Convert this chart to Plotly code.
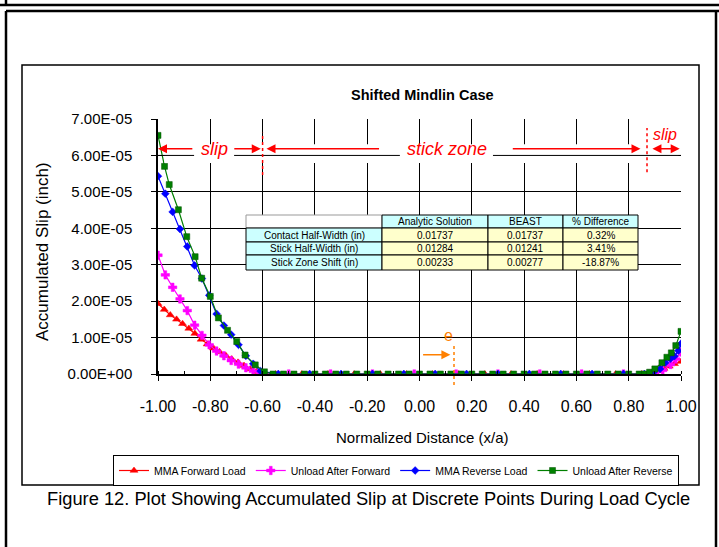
import plotly.graph_objects as go

# ---------------- data (slip values in units of 1e-5 inch) ----------------
red_x = [-1.000, -0.976, -0.953, -0.929, -0.906, -0.882, -0.859, -0.835, -0.812, -0.788,
         -0.765, -0.741, -0.718, -0.694, -0.671, -0.647, -0.624, -0.600,
         -0.55, -0.45, -0.35, -0.25, -0.15, -0.05, 0.05, 0.15, 0.25, 0.35, 0.45, 0.55, 0.65, 0.75, 0.85,
         0.89, 0.915, 0.935, 0.955, 0.975, 1.00]
red_y = [1.93, 1.77, 1.62, 1.50, 1.38, 1.25, 1.11, 0.95, 0.82, 0.71,
         0.61, 0.51, 0.41, 0.32, 0.23, 0.14, 0.06, 0.01,
         0, 0, 0, 0, 0, 0, 0, 0, 0, 0, 0, 0, 0, 0, 0,
         0.04, 0.09, 0.15, 0.21, 0.28, 0.34]

mag_x = [-1.000, -0.972, -0.944, -0.916, -0.888, -0.860, -0.832, -0.804, -0.776, -0.748,
         -0.720, -0.692, -0.664, -0.636, -0.608,
         -0.50, -0.34, -0.18, -0.02, 0.14, 0.30, 0.46, 0.62, 0.78, 0.88,
         0.90, 0.93, 0.96, 0.98, 1.00]
mag_y = [3.26, 2.72, 2.38, 2.06, 1.74, 1.34, 1.06, 0.80, 0.63, 0.50,
         0.37, 0.27, 0.17, 0.08, 0.02,
         0, 0, 0, 0, 0, 0, 0, 0, 0, 0,
         0.03, 0.10, 0.26, 0.41, 0.60]

blue_x = [-1.000, -0.972, -0.944, -0.916, -0.888, -0.860, -0.832, -0.804, -0.776, -0.748,
          -0.720, -0.692, -0.664, -0.636, -0.608,
          -0.54, -0.42, -0.30, -0.18, -0.06, 0.06, 0.18, 0.30, 0.42, 0.54, 0.66, 0.78, 0.86,
          0.895, 0.92, 0.94, 0.96, 0.975, 0.99, 1.00]
blue_y = [5.43, 4.95, 4.45, 3.98, 3.50, 2.98, 2.62, 2.16, 1.65, 1.33,
          1.08, 0.80, 0.50, 0.28, 0.08,
          0, 0, 0, 0, 0, 0, 0, 0, 0, 0, 0, 0, 0,
          0.05, 0.14, 0.31, 0.42, 0.49, 0.64, 0.83]

green_x = [-1.000, -0.975, -0.957, -0.922, -0.890, -0.858, -0.833, -0.800, -0.769, -0.734,
           -0.699, -0.667, -0.628, -0.593,
           -0.56, -0.52, -0.48, -0.44, -0.40, -0.36, -0.32, -0.28, -0.24, -0.20, -0.16, -0.12,
           -0.08, -0.04, 0.00, 0.04, 0.08, 0.12, 0.16, 0.20, 0.24, 0.28, 0.32, 0.36, 0.40, 0.44,
           0.48, 0.52, 0.56, 0.60, 0.64, 0.68, 0.72, 0.76, 0.80, 0.84,
           0.86, 0.88, 0.90, 0.927, 0.946, 0.963, 0.98, 1.00]
green_y = [6.55, 5.70, 5.20, 4.51, 3.77, 3.22, 2.63, 2.13, 1.54, 1.20,
           0.89, 0.52, 0.25, 0.06,
           0, 0, 0, 0, 0, 0, 0, 0, 0, 0, 0, 0,
           0, 0, 0, 0, 0, 0, 0, 0, 0, 0, 0, 0, 0, 0,
           0, 0, 0, 0, 0, 0, 0, 0, 0, 0,
           0.0, 0.05, 0.14, 0.31, 0.46, 0.58, 0.78, 1.17]

series_names = ["MMA Forward Load", "Unload After Forward", "MMA Reverse Load", "Unload After Reverse"]

x_tick_vals = [-1.0, -0.8, -0.6, -0.4, -0.2, 0.0, 0.2, 0.4, 0.6, 0.8, 1.0]
x_tick_text = ["-1.00", "-0.80", "-0.60", "-0.40", "-0.20", "0.00", "0.20", "0.40", "0.60", "0.80", "1.00"]
y_tick_vals = [0, 1e-5, 2e-5, 3e-5, 4e-5, 5e-5, 6e-5, 7e-5]
y_tick_text = ["0.00E+00", "1.00E-05", "2.00E-05", "3.00E-05", "4.00E-05", "5.00E-05", "6.00E-05", "7.00E-05"]

table_header = ["", "Analytic Solution", "BEAST", "% Difference"]
table_rows = ["Contact Half-Width (in)", "Stick Half-Width (in)", "Stick Zone Shift (in)"]
table_analytic = ["0.01737", "0.01284", "0.00233"]
table_beast = ["0.01737", "0.01241", "0.00277"]
table_diff = ["0.32%", "3.41%", "-18.87%"]

# ---------------- figure ----------------
FONT = "Liberation Sans, Arial, sans-serif"
W, H = 719, 547
L, R, T, B = 158, 38, 119, 173
PW, PH = W - L - R, H - T - B


def px(xp):
    return (xp - L) / PW


def py(yp):
    return (H - B - yp) / PH


def e5(vals):
    return [v * 1e-5 for v in vals]


fig = go.Figure()
styles = [
    (red_x, red_y, "#FF0000", "triangle-up", 7, "#FF0000"),
    (mag_x, mag_y, "#FF00FF", "cross", 7, "#FF00FF"),
    (blue_x, blue_y, "#0000FF", "diamond", 6, "#0000FF"),
    (green_x, green_y, "#008000", "square", 6, "#005000"),
]
for (xs, ys, col, sym, sz, lc), name in zip(styles, series_names):
    fig.add_trace(go.Scatter(
        x=xs, y=e5(ys), name=name, mode="lines+markers",
        line=dict(color=col, width=1.2),
        marker=dict(symbol=sym, size=sz, color=col, line=dict(color=lc, width=0.5)),
    ))

shapes = []
ann = []

# outer page frame
frame = dict(type="line", xref="paper", yref="paper", line=dict(color="black", width=2.5))
shapes.append(dict(frame, x0=px(0), x1=px(719), y0=py(5), y1=py(5)))
shapes.append(dict(frame, x0=px(6), x1=px(6), y0=py(0), y1=py(5)))
shapes.append(dict(frame, x0=px(6), x1=px(719), y0=py(11), y1=py(11)))
shapes.append(dict(frame, x0=px(6), x1=px(6), y0=py(11), y1=py(547)))
shapes.append(dict(frame, x0=px(716), x1=px(716), y0=py(11), y1=py(547)))
# chart area border
shapes.append(dict(type="rect", xref="paper", yref="paper", x0=px(22), x1=px(699), y0=py(485), y1=py(65),
                   line=dict(color="black", width=1.5), layer="below"))
# white band behind the zone arrows
shapes.append(dict(type="rect", xref="x", yref="y", x0=-0.975, x1=0.99, y0=5.79e-5, y1=6.31e-5,
                   fillcolor="white", line=dict(width=0), layer="above"))
for a, b in [(-1.0, -0.862), (-0.709, -0.075), (0.281, 1.0)]:
    shapes.append(dict(type="line", xref="x", yref="y", x0=a, x1=b, y0=6e-5, y1=6e-5,
                       line=dict(color="black", width=1), layer="above"))
# red dotted boundaries
shapes.append(dict(type="line", xref="x", yref="y", x0=-0.60, x1=-0.60, y0=5.46e-5, y1=6.62e-5,
                   line=dict(color="#FF0000", width=1.5, dash="dot"), layer="above"))
shapes.append(dict(type="line", xref="x", yref="y", x0=0.870, x1=0.870, y0=5.54e-5, y1=6.75e-5,
                   line=dict(color="#FF0000", width=1.5, dash="dot"), layer="above"))
# orange dotted eccentricity line
shapes.append(dict(type="line", xref="paper", yref="paper", x0=px(454), x1=px(454), y0=py(346), y1=py(386),
                   line=dict(color="#FF8000", width=1.5, dash="dot"), layer="above"))

# table drawn from its text lists
col_edges = [246, 382, 488, 563, 638]
row_edges = [215, 228, 242, 255, 270]
columns = [table_rows, table_analytic, table_beast, table_diff]
for c in range(4):
    for r in range(4):
        if r == 0:
            fill = "white" if c == 0 else "#CCFFFF"
            txt = table_header[c]
        else:
            fill = "#CCFFFF" if c == 0 else "#FFFFCC"
            txt = columns[c][r - 1]
        x0, x1 = col_edges[c], col_edges[c + 1]
        y0, y1 = row_edges[r], row_edges[r + 1]
        shapes.append(dict(type="rect", xref="paper", yref="paper", x0=px(x0), x1=px(x1),
                           y0=py(y1), y1=py(y0), fillcolor=fill,
                           line=dict(color="black" if not (r == 0 and c == 0) else "#999999", width=1),
                           layer="above"))
        if txt:
            ann.append(dict(xref="paper", yref="paper", x=px((x0 + x1) / 2), y=py((y0 + y1) / 2),
                            xanchor="center", yanchor="middle", text=txt, showarrow=False,
                            font=dict(family=FONT, size=10, color="black")))

ay = 6.18e-5
red = "#FF0000"
arrow = dict(xref="x", yref="y", axref="x", ayref="y", text="", showarrow=True,
             arrowhead=2, arrowsize=1.2, arrowwidth=1.5, arrowcolor=red, standoff=0, startstandoff=0)
ann.append(dict(arrow, x=-1.0, y=ay, ax=-0.863, ay=ay))
ann.append(dict(arrow, x=-0.607, y=ay, ax=-0.714, ay=ay))
ann.append(dict(arrow, x=-0.585, y=ay, ax=-0.149, ay=ay))
ann.append(dict(arrow, x=0.845, y=ay, ax=0.351, ay=ay))
ann.append(dict(arrow, x=0.995, y=ay, ax=0.885, ay=ay, arrowside="end+start"))
red_text = dict(xref="x", yref="y", showarrow=False, xanchor="center", yanchor="middle",
                font=dict(family=FONT, size=18, color=red))
ann.append(dict(red_text, x=-0.785, y=ay, text="<i>slip</i>"))
ann.append(dict(red_text, x=0.105, y=ay, text="<i>stick zone</i>"))
ann.append(dict(red_text, x=0.94, y=6.58e-5, text="<i>slip</i>", font=dict(family=FONT, size=16, color=red)))
# orange e
ann.append(dict(xref="x", yref="y", x=0.111, y=1.06e-5, text="e", showarrow=False,
                xanchor="center", yanchor="middle",
                font=dict(family=FONT, size=16, color="#FF8000")))
ann.append(dict(arrow, x=0.118, y=0.53e-5, ax=0.008, ay=0.53e-5, arrowcolor="#FF8000"))
# titles and caption
txt = dict(xref="paper", yref="paper", showarrow=False, xanchor="center", yanchor="middle")
ann.append(dict(txt, x=px(422), y=py(95), text="<b>Shifted Mindlin Case</b>",
                font=dict(family=FONT, size=14.5, color="black")))
ann.append(dict(txt, x=px(422), y=py(437), text="Normalized Distance (x/a)",
                font=dict(family=FONT, size=15, color="black")))
ann.append(dict(txt, x=px(43), y=py(252), text="Accumulated Slip (inch)", textangle=-90,
                font=dict(family=FONT, size=17, color="black")))
ann.append(dict(txt, x=px(368), y=py(498),
                text="Figure 12. Plot Showing Accumulated Slip at Discrete Points During Load Cycle",
                font=dict(family=FONT, size=18.3, color="black")))

fig.update_layout(
    width=W, height=H, margin=dict(l=L, r=R, t=T, b=B),
    paper_bgcolor="white", plot_bgcolor="white",
    font=dict(family=FONT, size=16, color="black"),
    shapes=shapes, annotations=ann,
    legend=dict(orientation="h", x=px(113), xanchor="left", y=py(455), yanchor="top",
                bordercolor="black", borderwidth=1, bgcolor="white", itemwidth=30,
                font=dict(family=FONT, size=10.5, color="black")),
    xaxis=dict(range=[-1.0, 1.0], tickvals=x_tick_vals, ticktext=x_tick_text,
               showgrid=True, gridcolor="black", gridwidth=1, zeroline=False,
               showline=True, linecolor="black", linewidth=1.5,
               ticks="outside", ticklen=5, tickcolor="black", ticklabelstandoff=12,
               minor=dict(ticks="inside", ticklen=3, dtick=0.1, tick0=-1.0, tickcolor="black", showgrid=False),
               tickfont=dict(size=16)),
    yaxis=dict(range=[0, 7e-5], tickvals=y_tick_vals, ticktext=y_tick_text,
               showgrid=True, gridcolor="black", gridwidth=1, zeroline=False,
               showline=True, linecolor="black", linewidth=1.5,
               ticks="outside", ticklen=5, tickcolor="black", ticklabelstandoff=16,
               tickfont=dict(size=15)),
    showlegend=True,
)

fig.write_html("out.html")
